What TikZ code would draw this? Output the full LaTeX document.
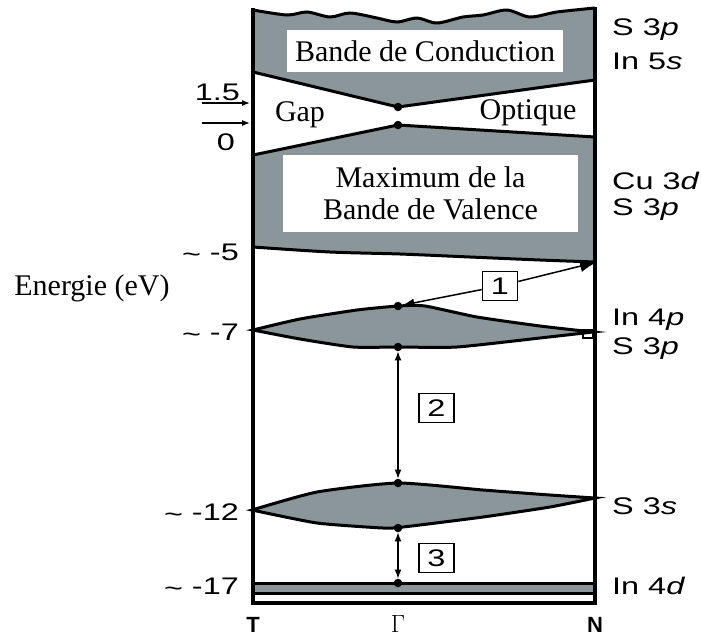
\documentclass[tikz,border=0pt]{standalone}
\usepackage{fontspec}
\usepackage{graphicx}
\setmainfont{Liberation Serif}
\newfontfamily\arialf{Liberation Sans}
\usetikzlibrary{arrows.meta}
\definecolor{bandgray}{RGB}{138,150,154}
\newcommand{\stretchx}[1]{\scalebox{1.35}[1]{#1}}
\newcommand{\tld}{\raisebox{-2pt}{\textasciitilde}}
\begin{document}
\begin{tikzpicture}[x=1pt,y=-1pt,
  dot/.style={circle,fill=black,inner sep=0pt,minimum size=8.5pt},
  numbox/.style={draw,line width=1.5pt,fill=white,inner sep=0pt,minimum width=35pt,minimum height=29pt,font=\arialf\fontsize{24}{24}\selectfont},
  rlab/.style={anchor=west,inner sep=0pt,font=\arialf\fontsize{24}{24}\selectfont},
  llab/.style={anchor=east,inner sep=0pt,font=\arialf\fontsize{24}{24}\selectfont},
  txt/.style={font=\fontsize{30}{32}\selectfont,align=center,inner sep=0pt},
  whitebox/.style={fill=white,inner sep=0pt,font=\fontsize{30}{32}\selectfont,align=center},
  kpt/.style={inner sep=0pt,font=\arialf\bfseries\fontsize{22}{22}\selectfont},
  border/.style={line width=4pt},
  bandline/.style={line width=3pt},
  dbl/.style={line width=1.2pt,{Latex[length=9pt,width=7pt]}-{Latex[length=9pt,width=7pt]}},
  arr/.style={line width=1.5pt}
]
\useasboundingbox (0,0) rectangle (701,638);

% upper gray region (conduction + valence)
\fill[bandgray] plot[smooth] coordinates {(253,10) (287,15) (307,12) (330,17) (350,13) (377,18) (397,22) (417,18) (437,23) (463,17) (483,15) (507,10) (530,17) (557,12) (595,8)}
  -- (595,262) -- plot[smooth] coordinates {(595,262) (540,260) (470,257) (400,254) (330,252) (253,247)} -- cycle;
% white gap
\fill[white] (253,72) -- (398,107) -- (595,80) -- (595,137) -- (398,125) -- (253,155) -- cycle;
\draw[bandline] (253,72) -- (398,107) -- (595,80);
\draw[bandline] (253,155) -- (398,125) -- (595,137);
% wavy top
\draw[line width=3pt] plot[smooth] coordinates {(253,10) (287,15) (307,12) (330,17) (350,13) (377,18) (397,22) (417,18) (437,23) (463,17) (483,15) (507,10) (530,17) (557,12) (595,8)};
% valence bottom line
\draw[bandline] plot[smooth] coordinates {(253,247) (330,252) (400,254) (470,257) (540,260) (595,262)};

% white boxes
\node[whitebox,minimum width=276pt,minimum height=42pt] (cb) at (425,51) {Bande de Conduction};
\node[whitebox,minimum width=295pt,minimum height=77pt] (vb) at (430.5,193.5) {Maximum de la\\Bande de Valence};
\node[txt] (gap) at (300,115) {Gap};
\node[txt] (opt) at (528,113) {Optique};

% lens -7
\filldraw[fill=bandgray,bandline] plot[smooth,tension=0.35] coordinates {(253,330) (300,319) (357,310) (398,306) (425,306) (477,317) (540,326) (593,332)}
  -- plot[smooth,tension=0.35] coordinates {(593,332) (540,338) (457,347) (398,347) (353,347) (300,339) (253,330)} -- cycle;
\draw[line width=1.2pt] (583,330) rectangle (593,338);
% lens -12
\filldraw[fill=bandgray,bandline] plot[smooth,tension=0.35] coordinates {(252,510) (317,492) (398,483) (483,490) (550,495) (595,498)}
  -- plot[smooth,tension=0.35] coordinates {(595,498) (550,507) (483,517) (403,527) (383,528) (317,523) (252,510)} -- cycle;
% band -17
\filldraw[fill=bandgray,line width=3pt] (253,583) rectangle (595,593);

% frame
\draw[border] (253,8) -- (253,603) -- (595,603) -- (595,7);

% dots
\node[dot] (gC) at (398,107) {};
\node[dot] (gV) at (398,125) {};
\node[dot] (d7t) at (398,306) {};
\node[dot] (d7b) at (398,347) {};
\node[dot] (d12t) at (398,483) {};
\node[dot] (d12b) at (398,528) {};
\node[dot] (d17) at (398,583) {};

% numbered transitions
\node[numbox] (n1) at (500,286) {\stretchx{1}};
\node[numbox] (n2) at (436.5,408) {\stretchx{2}};
\node[numbox] (n3) at (436.5,558) {\stretchx{3}};
\coordinate (wallN) at (597,262);
\draw[arr,-{Latex[length=17pt,width=12pt]}] (n1) -- (wallN);
\draw[arr,-{Latex[length=12pt,width=9pt]}] (n1) -- (d7t);
\draw[dbl] (d7b) -- (d12t);
\draw[dbl] (d12b) -- (d17);

% left energy marks
\coordinate (a1s) at (202,103); \coordinate (a1e) at (250,103);
\coordinate (a0s) at (202,123); \coordinate (a0e) at (250,123);
\draw[line width=1.2pt,-{Latex[length=8pt,width=6pt]}] (a1s) -- (a1e);
\draw[line width=1.2pt,-{Latex[length=8pt,width=6pt]}] (a0s) -- (a0e);
\node[llab] (l15) at (240,92) {\stretchx{1.5}};
\node[llab] (l0) at (235,142) {\stretchx{0}};
\node[llab] (l5) at (239,253) {\stretchx{\tld\ -5}};
\node[llab] (l7) at (239,333) {\stretchx{\tld\ -7}};
\node[llab] (l12) at (239,513) {\stretchx{\tld\ -12}};
\node[llab] (l17) at (239,587) {\stretchx{\tld\ -17}};
\node[txt] (en) at (92,288) {Energie (eV)};

% right orbital labels
\node[rlab] (r1) at (612,30) {\stretchx{S 3\textit{p}}};
\node[rlab] (r2) at (612,61) {\stretchx{In 5\textit{s}}};
\node[rlab] (r3) at (612,181) {\stretchx{Cu 3\textit{d}}};
\node[rlab] (r4) at (612,210) {\stretchx{S 3\textit{p}}};
\node[rlab] (r5) at (612,320) {\stretchx{In 4\textit{p}}};
\node[rlab] (r6) at (612,349) {\stretchx{S 3\textit{p}}};
\node[rlab] (r7) at (612,506) {\stretchx{S 3\textit{s}}};
\node[rlab] (r8) at (612,586) {\stretchx{In 4\textit{d}}};

% k-points
\node[kpt] (T) at (253,625) {T};
\node[inner sep=0pt,font=\fontsize{24}{24}\selectfont] (G) at (398,624) {$\Gamma$};
\node[kpt] (N) at (595,625) {N};
\end{tikzpicture}
\end{document}
